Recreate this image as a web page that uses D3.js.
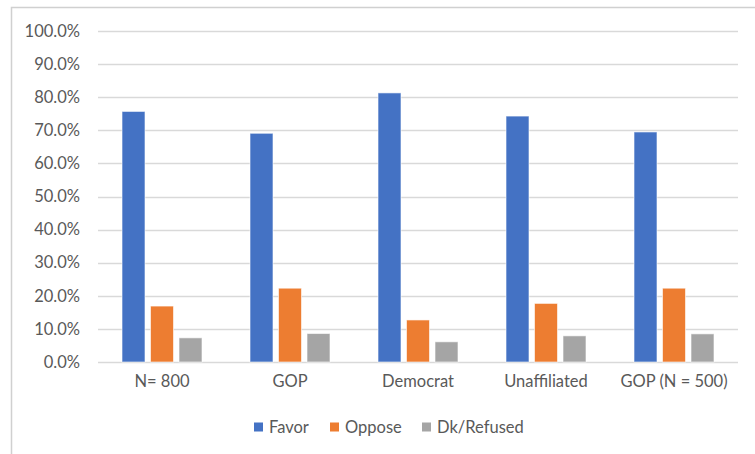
<!DOCTYPE html>
<html><head><meta charset="utf-8">
<script src="https://cdn.jsdelivr.net/npm/d3@7"></script>
<style>html,body{margin:0;padding:0;background:#fff;}svg{display:block;}</style>
</head><body>
<script>
const categories = ["N= 800", "GOP", "Democrat", "Unaffiliated", "GOP (N = 500)"];
const seriesNames = ["Favor", "Oppose", "Dk/Refused"];
const favor = [0.757, 0.691, 0.813, 0.743, 0.695];
const oppose = [0.169, 0.223, 0.127, 0.177, 0.223];
const dkRefused = [0.073, 0.086, 0.061, 0.079, 0.085];
const yTicks = [0, 0.1, 0.2, 0.3, 0.4, 0.5, 0.6, 0.7, 0.8, 0.9, 1.0];
const colors = ["#4472C4", "#ED7D31", "#A5A5A5"];

const W = 755, H = 454;
const font = "Lato, 'Open Sans', sans-serif";
const fs = "16.5px";
const svg = d3.select("body").append("svg").attr("width", W).attr("height", H);

// outer frame
svg.append("path").attr("d", `M11.5,${H} V7.5 H${W}`).attr("fill", "none").attr("stroke", "#D0D0D0").attr("stroke-width", 1.5);

const x0 = d3.scaleBand().domain(categories).range([98, 738]).paddingInner(0).paddingOuter(0);
const y = d3.scaleLinear().domain([0, 1]).range([362, 31]);
const barW = 23, step = 28.5;
const x1 = d3.scaleBand().domain(seriesNames).range([-step * 1.5, step * 1.5]);

// gridlines
svg.append("g").selectAll("line").data(yTicks).join("line")
  .attr("x1", 98).attr("x2", 738)
  .attr("y1", d => Math.round(y(d)) + 0.5).attr("y2", d => Math.round(y(d)) + 0.5)
  .attr("stroke", "#D9D9D9").attr("stroke-width", 1.3);

// y axis labels
const yAxis = d3.axisLeft(y).tickValues(yTicks).tickFormat(d3.format(".1%")).tickSize(0).tickPadding(0);
const yg = svg.append("g").attr("transform", "translate(80,0)").call(yAxis);
yg.select(".domain").remove();
yg.selectAll("text").attr("fill", "#595959").style("font-family", font).style("font-size", fs);

// bars
const data = categories.map((c, i) => ({cat: c, vals: [favor[i], oppose[i], dkRefused[i]]}));
const groups = svg.append("g").selectAll("g").data(data).join("g")
  .attr("transform", d => `translate(${x0(d.cat) + x0.bandwidth() / 2},0)`);
groups.selectAll("rect").data(d => d.vals.map((v, j) => ({v, s: seriesNames[j], j}))).join("rect")
  .attr("x", d => x1(d.s) + (x1.bandwidth() - barW) / 2)
  .attr("width", barW)
  .attr("y", d => y(d.v))
  .attr("height", d => y(0) - y(d.v))
  .attr("fill", d => colors[d.j])
  .attr("stroke", "rgba(255,255,255,0.6)").attr("stroke-width", 1);

// x axis labels
const xAxis = d3.axisBottom(x0).tickSize(0).tickPadding(0);
const xg = svg.append("g").attr("transform", "translate(0,380)").call(xAxis);
xg.select(".domain").remove();
xg.selectAll("text").attr("fill", "#595959").style("font-family", font).style("font-size", fs).attr("dy", "0.4em");

// legend
const legendX = [254, 330, 422];
const lg = svg.append("g").selectAll("g").data(seriesNames).join("g")
  .attr("transform", (d, i) => `translate(${legendX[i]},427)`);
lg.append("rect").attr("x", 0).attr("y", -4.5).attr("width", 9).attr("height", 9).attr("fill", (d, i) => colors[i]);
lg.append("text").attr("x", 15).attr("y", 0).attr("dy", "0.35em").text(d => d)
  .attr("fill", "#595959").style("font-family", font).style("font-size", fs);
</script>
</body></html>
